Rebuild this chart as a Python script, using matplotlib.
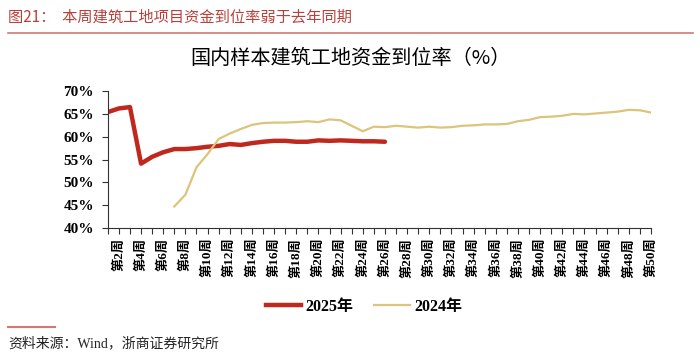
import matplotlib
matplotlib.use('Agg')
import matplotlib.pyplot as plt
from matplotlib.lines import Line2D

plt.rcParams['font.family'] = ['Liberation Serif', 'Noto Sans CJK SC']

# 周次
weeks = list(range(1, 51))
week_labels = ['第%d周' % w for w in weeks]

# 2025年（第1-26周）
y2025 = [65.4, 66.2, 66.5, 54.1, 55.6, 56.6, 57.3, 57.3, 57.5, 57.8,
         58.0, 58.4, 58.2, 58.6, 58.9, 59.1, 59.1, 58.9, 58.9, 59.2,
         59.1, 59.2, 59.1, 59.0, 59.0, 58.9]

# 2024年（第7-50周）
weeks2024 = list(range(7, 51))
y2024 = [44.7, 47.3, 53.3, 56.2, 59.5, 60.7, 61.7, 62.6, 63.0, 63.1,
         63.1, 63.2, 63.4, 63.2, 63.8, 63.6, 62.4, 61.2, 62.2, 62.1,
         62.4, 62.2, 62.0, 62.2, 62.0, 62.1, 62.4, 62.5, 62.7, 62.7,
         62.8, 63.4, 63.7, 64.3, 64.4, 64.6, 65.0, 64.9, 65.1, 65.3,
         65.5, 65.9, 65.8, 65.3]

red = '#C0281E'
gold = '#DCC47C'
head = '#B8403A'

fig = plt.figure(figsize=(7, 3.63), dpi=100)
ax = fig.add_axes([0.154, 0.372, 0.776, 0.377])

ax.plot(weeks[:len(y2025)], y2025, color=red, lw=3.2, solid_capstyle='round')
ax.plot(weeks2024, y2024, color=gold, lw=1.6)

ax.set_xlim(1, 50)
ax.set_ylim(40, 70)
ax.set_yticks(range(40, 71, 5))
ax.set_yticklabels(['%d%%' % v for v in range(40, 71, 5)],
                   fontsize=11, fontweight='bold')
ax.set_xticks(weeks)
ax.set_xticklabels([lab if w % 2 == 0 else '' for w, lab in zip(weeks, week_labels)],
                   rotation=90, fontsize=9.5, fontweight='bold')
ax.tick_params(axis='both', direction='out', length=4, width=0.8, color='#333333')
ax.tick_params(axis='x', pad=3)
ax.tick_params(axis='y', pad=6)
for s in ['top', 'right']:
    ax.spines[s].set_visible(False)
for s in ['left', 'bottom']:
    ax.spines[s].set_color('#333333')
    ax.spines[s].set_linewidth(0.8)

fig.text(0.5, 0.84, '国内样本建筑工地资金到位率（%）', ha='center', va='center',
         fontsize=14.5, family=['Noto Sans CJK SC'])

handles = [Line2D([], [], color=red, lw=3.2), Line2D([], [], color=gold, lw=1.6)]
fig.legend(handles, ['2025年', '2024年'], loc='center', bbox_to_anchor=(0.52, 0.155),
           ncol=2, frameon=False, handlelength=2.2, handletextpad=0.3, columnspacing=1.3,
           prop={'weight': 'bold', 'size': 11.5})

# 页眉与页脚
fig.text(0.012, 0.953, '图21：  本周建筑工地项目资金到位率弱于去年同期', ha='left', va='center',
         fontsize=11, color=head, family=['Noto Sans CJK SC'])
fig.add_artist(Line2D([0.012, 0.99], [0.91, 0.91], color='#D07A70', lw=1.2))
fig.add_artist(Line2D([0.012, 0.078], [0.099, 0.099], color='#D07A70', lw=1.5))
fig.text(0.012, 0.055, '资料来源：Wind，浙商证券研究所', ha='left', va='center',
         fontsize=10, color='#222222', family=['Liberation Serif', 'Noto Sans CJK SC'])

fig.savefig('out.png', dpi=100, facecolor='white')
